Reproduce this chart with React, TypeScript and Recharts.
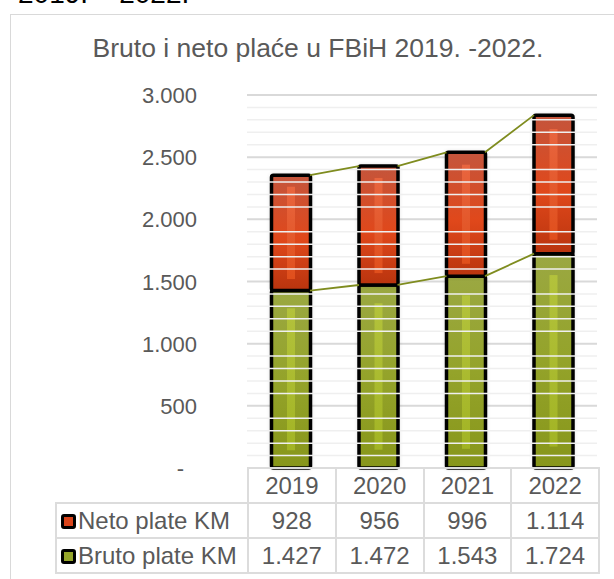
import React from 'react';
import { ComposedChart, Bar, Line, XAxis, YAxis, CartesianGrid, ReferenceLine } from 'recharts';

const years = ['2019', '2020', '2021', '2022'];
const neto = [928, 956, 996, 1114];
const bruto = [1427, 1472, 1543, 1724];
const yTicks = [0, 500, 1000, 1500, 2000, 2500, 3000];
const minorTicks = [
  100, 200, 300, 400, 600, 700, 800, 900, 1100, 1200, 1300, 1400, 1600, 1700, 1800, 1900,
  2100, 2200, 2300, 2400, 2600, 2700, 2800, 2900,
];

const FONT = '"Liberation Sans", Arial, sans-serif';
const TEXT = '#595959';
const GRID = '#d9d9d9';
const EDGE = 0.22; // half bar width as a fraction of the category band

const data = years.map((year, i) => ({ year, bruto: bruto[i], neto: neto[i] }));

// series lines join the top corners of neighbouring bars
const seriesLine = (tops: number[]) => {
  const pts: { x: number; y: number | null }[] = [];
  for (let i = 0; i < tops.length - 1; i++) {
    pts.push({ x: i + EDGE, y: tops[i] });
    pts.push({ x: i + 1 - EDGE, y: tops[i + 1] });
    pts.push({ x: i + 0.5, y: null });
  }
  return pts;
};
const brutoLine = seriesLine(bruto);
const totalLine = seriesLine(bruto.map((b, i) => b + neto[i]));

const fmt = (v: number) => (v === 0 ? '-' : String(v).replace(/\B(?=(\d{3})+(?!\d))/g, '.'));

const YTick = ({ x, y, payload }: any) => (
  <text x={payload.value === 0 ? x - 13 : x} y={y} dy={8} textAnchor="end" fill={TEXT} fontSize={22} fontFamily={FONT}>
    {fmt(payload.value)}
  </text>
);

const makeShape = (kind: 'red' | 'green') => (props: any) => {
  const { x, y, width, height } = props;
  if (!height || height <= 0) return null;
  const pad = Math.max(10, height * 0.1);
  return (
    <g>
      <rect x={x} y={y} width={width} height={height} fill="#000" opacity={0.25} filter="url(#barShadow)" />
      <rect x={x} y={y} width={width} height={height} fill={`url(#${kind}Grad)`} stroke="#000" strokeWidth={3.5} rx={2} />
      <rect x={x + width / 2 - 4} y={y + pad} width={8} height={height - pad * 2} fill={`url(#${kind}Stripe)`} />
    </g>
  );
};

const cell: React.CSSProperties = {
  border: '2px solid #dcdcdc',
  textAlign: 'center',
  padding: 0,
  height: 33,
  color: TEXT,
  fontSize: 24,
};

const Swatch = ({ color }: { color: string }) => (
  <span
    style={{
      display: 'inline-block',
      width: 9,
      height: 9,
      background: color,
      border: '3px solid #000',
      borderRadius: 3,
      marginRight: 2,
      verticalAlign: 0,
    }}
  />
);

export default function App() {
  return (
    <div style={{ position: 'absolute', left: 0, top: 0, width: 614, height: 579, overflow: 'hidden', background: '#fff', fontFamily: FONT }}>
      <div style={{ position: 'absolute', left: 18, top: -22, fontSize: 28, color: '#000' }}>2019. – 2022.</div>
      <div style={{ position: 'absolute', left: 10, top: 14, width: 640, height: 640, border: '1px solid #d9d9d9' }} />
      <div style={{ position: 'absolute', left: 10, top: 33, width: 616, textAlign: 'center', fontSize: 26.5, color: TEXT, whiteSpace: 'nowrap' }}>
        Bruto i neto plaće u FBiH 2019. -2022.
      </div>

      <div style={{ position: 'absolute', left: 0, top: 0 }}>
        <ComposedChart width={614} height={579} data={data} margin={{ top: 95, right: 17, bottom: 111, left: 147 }} barCategoryGap="28%">
          <defs>
            <linearGradient id="redGrad" x1="0" y1="0" x2="0" y2="1">
              <stop offset="0%" stopColor="#c4553c" />
              <stop offset="55%" stopColor="#e0481b" />
              <stop offset="100%" stopColor="#b9340e" />
            </linearGradient>
            <linearGradient id="redStripe" x1="0" y1="0" x2="0" y2="1">
              <stop offset="0%" stopColor="#e8653f" />
              <stop offset="100%" stopColor="#e04f1c" />
            </linearGradient>
            <linearGradient id="greenGrad" x1="0" y1="0" x2="0" y2="1">
              <stop offset="0%" stopColor="#9ba842" />
              <stop offset="50%" stopColor="#94a32a" />
              <stop offset="100%" stopColor="#87961a" />
            </linearGradient>
            <linearGradient id="greenStripe" x1="0" y1="0" x2="0" y2="1">
              <stop offset="0%" stopColor="#b3c23c" />
              <stop offset="100%" stopColor="#a2b424" />
            </linearGradient>
            <filter id="barShadow" x="-30%" y="-10%" width="160%" height="120%">
              <feGaussianBlur stdDeviation="2.5" />
            </filter>
          </defs>

          {minorTicks.map((v) => (
            <ReferenceLine key={v} y={v} stroke="#efefef" strokeWidth={1.5} />
          ))}
          <CartesianGrid vertical={false} stroke={GRID} strokeWidth={2} />

          <XAxis dataKey="year" hide />
          <XAxis xAxisId="edges" type="number" dataKey="x" domain={[-0.5, 3.5]} hide />
          <YAxis domain={[0, 3000]} ticks={yTicks} width={100} axisLine={false} tickLine={false} tick={<YTick />} tickMargin={44} interval={0} />

          <Bar dataKey="bruto" stackId="s" shape={makeShape('green')} isAnimationActive={false} />
          <Bar dataKey="neto" stackId="s" shape={makeShape('red')} isAnimationActive={false} />

          <Line xAxisId="edges" data={brutoLine} dataKey="y" stroke="#7f8c1f" strokeWidth={1.8} dot={false} connectNulls={false} isAnimationActive={false} />
          <Line xAxisId="edges" data={totalLine} dataKey="y" stroke="#7f8c1f" strokeWidth={1.8} dot={false} connectNulls={false} isAnimationActive={false} />
        </ComposedChart>
      </div>

      <table
        style={{
          position: 'absolute',
          left: 55,
          top: 467,
          width: 543,
          borderCollapse: 'collapse',
          tableLayout: 'fixed',
          fontFamily: FONT,
        }}
      >
        <colgroup>
          <col style={{ width: 192 }} />
          {years.map((y) => (
            <col key={y} style={{ width: 87.75 }} />
          ))}
        </colgroup>
        <tbody>
          <tr>
            <td style={{ ...cell, borderTop: 'hidden', borderLeft: 'hidden' }} />
            {years.map((y) => (
              <td key={y} style={cell}>{y}</td>
            ))}
          </tr>
          <tr>
            <td style={{ ...cell, textAlign: 'left', paddingLeft: 4, whiteSpace: 'nowrap' }}>
              <Swatch color="#d9441b" />Neto plate KM
            </td>
            {neto.map((v, i) => (
              <td key={i} style={cell}>{fmt(v)}</td>
            ))}
          </tr>
          <tr>
            <td style={{ ...cell, textAlign: 'left', paddingLeft: 4, whiteSpace: 'nowrap' }}>
              <Swatch color="#95a52a" />Bruto plate KM
            </td>
            {bruto.map((v, i) => (
              <td key={i} style={cell}>{fmt(v)}</td>
            ))}
          </tr>
        </tbody>
      </table>
    </div>
  );
}
